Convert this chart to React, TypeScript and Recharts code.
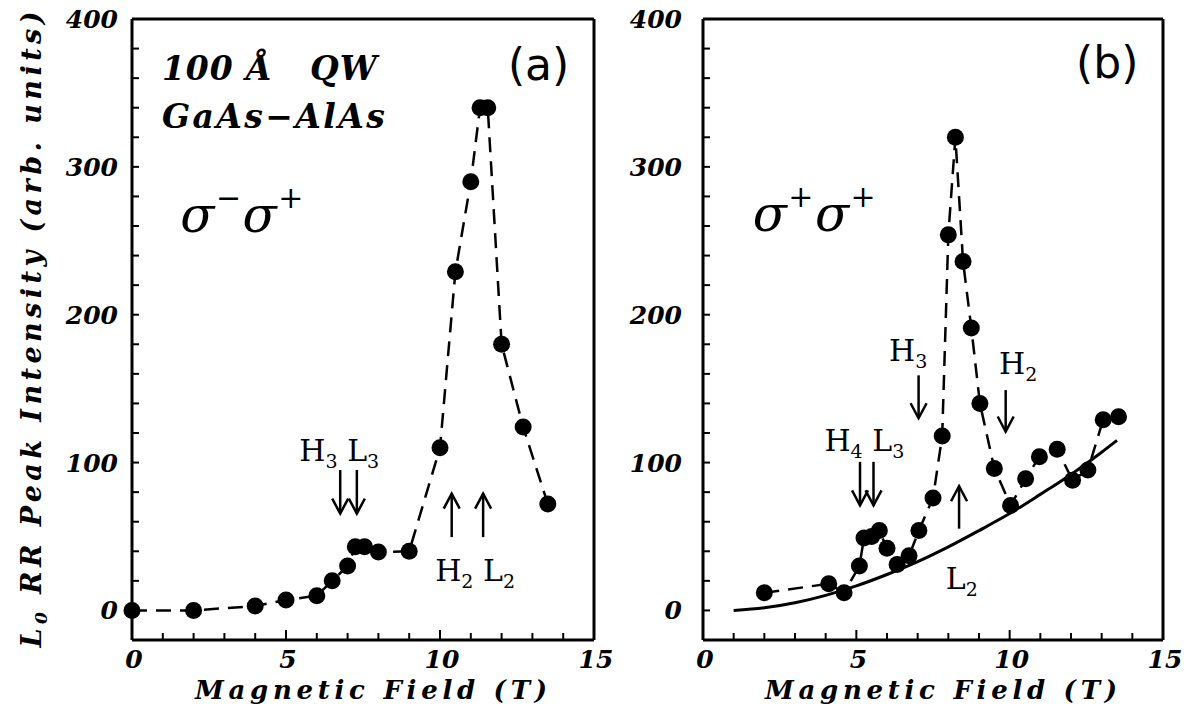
import React from "react";
import {
  ComposedChart,
  Line,
  XAxis,
  YAxis,
  ReferenceLine,
  ReferenceDot,
} from "recharts";

// ── Data ──────────────────────────────────────────────────────────────────────
// (a) sigma- sigma+
const fieldA = [0, 2, 4, 5, 6, 6.5, 7, 7.25, 7.55, 8, 9, 10, 10.5, 11, 11.3, 11.55, 12, 12.7, 13.5];
const intensityA = [0, 0, 3, 7, 10, 20, 30, 43, 43, 39.5, 40, 110, 229, 290, 340, 340, 180, 124, 72];

// (b) sigma+ sigma+
const fieldB = [
  2, 4.1, 4.6, 5.1, 5.25, 5.5, 5.75, 6.0, 6.33, 6.72, 7.04, 7.5, 7.8, 8.0, 8.23, 8.48, 8.75,
  9.03, 9.5, 10.03, 10.52, 10.97, 11.55, 12.05, 12.55, 13.05, 13.55,
];
const intensityB = [
  12, 18, 12, 30, 49, 50, 54, 42, 31, 37, 54, 76, 118, 254, 320, 236, 191,
  140, 96, 71, 89, 104, 109, 88, 95, 129, 131,
];

// (b) L2 background curve
const fitField = [1, 2, 3, 4, 5, 6, 7, 8, 9, 10, 11, 12, 13, 13.5];
const fitIntensity = [0, 1.8, 5.2, 10.2, 16.6, 24.3, 33, 43, 54, 65.5, 78.5, 92, 107, 115];

const xTicks = [0, 1, 2, 3, 4, 5, 6, 7, 8, 9, 10, 11, 12, 13, 14, 15];
const xTickLabels = [0, 5, 10, 15];
const yTicks = [0, 20, 40, 60, 80, 100, 120, 140, 160, 180, 200, 220, 240, 260, 280, 300, 320, 340, 360, 380, 400];
const yTickLabels = [0, 100, 200, 300, 400];

// ── Annotations (data coordinates) ────────────────────────────────────────────
type Part = [string, ("sub" | "sup")?];
type Note = { x: number; y: number; kind: string; parts: Part[]; width?: number; anchor: "start" | "middle" };
type Arrow = { x: number; from: number; to: number };

const notesA: Note[] = [
  { x: 0.97, y: 358.8, kind: "hershey", parts: [["100 Å   QW"]], width: 215, anchor: "start" },
  { x: 0.97, y: 326, kind: "hershey", parts: [["GaAs−AlAs"]], width: 223, anchor: "start" },
  { x: 13.2, y: 359, kind: "tag", parts: [["(a)"]], anchor: "middle" },
  { x: 1.57, y: 256, kind: "greek", parts: [["σ"], ["−", "sup"], ["σ"], ["+", "sup"]], width: 123, anchor: "start" },
  { x: 6.73, y: 101, kind: "roman", parts: [["H"], ["3", "sub"], [" L"], ["3", "sub"]], anchor: "middle" },
  { x: 11.14, y: 19.8, kind: "roman", parts: [["H"], ["2", "sub"], [" L"], ["2", "sub"]], anchor: "middle" },
];
const arrowsA: Arrow[] = [
  { x: 6.76, from: 95, to: 65.5 },
  { x: 7.3, from: 95, to: 65.5 },
  { x: 10.38, from: 49.6, to: 79 },
  { x: 11.4, from: 49.6, to: 79 },
];

const notesB: Note[] = [
  { x: 13.18, y: 360, kind: "tag", parts: [["(b)"]], anchor: "middle" },
  { x: 1.62, y: 256.8, kind: "greek", parts: [["σ"], ["+", "sup"], ["σ"], ["+", "sup"]], width: 123, anchor: "start" },
  { x: 6.69, y: 169, kind: "roman", parts: [["H"], ["3", "sub"]], anchor: "middle" },
  { x: 10.28, y: 160, kind: "roman", parts: [["H"], ["2", "sub"]], anchor: "middle" },
  { x: 5.26, y: 108, kind: "roman", parts: [["H"], ["4", "sub"], [" L"], ["3", "sub"]], anchor: "middle" },
  { x: 8.44, y: 14.7, kind: "roman", parts: [["L"], ["2", "sub"]], anchor: "middle" },
];
const arrowsB: Arrow[] = [
  { x: 5.12, from: 100.5, to: 71 },
  { x: 5.56, from: 100.5, to: 71 },
  { x: 7.03, from: 159, to: 130 },
  { x: 9.87, from: 149, to: 121 },
  { x: 8.35, from: 55.3, to: 84 },
];

// ── Theme ─────────────────────────────────────────────────────────────────────
const INK = "#000";
const SERIF = "'DejaVu Serif', serif";
const FONTS: Record<string, { family: string; size: number; weight: string; style: string; small: number; shift: number }> = {
  hershey: { family: SERIF, size: 33, weight: "bold", style: "italic", small: 18, shift: 0 },
  roman: { family: SERIF, size: 30, weight: "normal", style: "normal", small: 19, shift: 7 },
  greek: { family: SERIF, size: 50, weight: "normal", style: "italic", small: 30, shift: 24 },
  tag: { family: "'DejaVu Sans', sans-serif", size: 44, weight: "normal", style: "normal", small: 20, shift: 0 },
};

// ── Ticks (drawn inward on all four sides) ────────────────────────────────────
const axisText = { fontFamily: SERIF, fontWeight: "bold" as const, fontStyle: "italic" as const, fill: INK };

function BottomTick(p: any) {
  const v = p.payload.value;
  const len = v % 5 === 0 ? 10 : 7;
  return (
    <g>
      <line x1={p.x} y1={p.y} x2={p.x} y2={p.y - len} stroke={INK} strokeWidth={2} />
      {xTickLabels.includes(v) && (
        <text x={p.x + 2} y={p.y + 28} textAnchor="middle" fontSize={25} {...axisText}>
          {v}
        </text>
      )}
    </g>
  );
}

function TopTick(p: any) {
  const v = p.payload.value;
  const len = v % 5 === 0 ? 10 : 7;
  return <line x1={p.x} y1={p.y} x2={p.x} y2={p.y + len} stroke={INK} strokeWidth={2} />;
}

const leftTick = (gap: number) => (p: any) => {
  const v = p.payload.value;
  return (
    <g>
      <line x1={p.x} y1={p.y} x2={p.x + 7} y2={p.y} stroke={INK} strokeWidth={2} />
      {yTickLabels.includes(v) && (
        <text x={p.x - gap} y={p.y + 9} textAnchor="end" fontSize={25} {...axisText}>
          {v}
        </text>
      )}
    </g>
  );
};

function RightTick(p: any) {
  return <line x1={p.x} y1={p.y} x2={p.x - 7} y2={p.y} stroke={INK} strokeWidth={2} />;
}

// ── Annotation shapes ─────────────────────────────────────────────────────────
function ArrowShape(p: any) {
  const { x1, y1, x2, y2 } = p;
  const dir = y2 > y1 ? 1 : -1;
  const hl = 15;
  const hw = 8;
  return (
    <g stroke={INK} strokeWidth={2.5} fill="none">
      <line x1={x1} y1={y1} x2={x2} y2={y2} />
      <polyline points={`${x2 - hw},${y2 - dir * hl} ${x2},${y2} ${x2 + hw},${y2 - dir * hl}`} />
    </g>
  );
}

const noteShape = (note: Note) => (p: any) => {
  const f = FONTS[note.kind];
  let base = 0;
  const fit = note.width ? { textLength: note.width, lengthAdjust: "spacing" } : {};
  return (
    <text
      x={p.cx}
      y={p.cy}
      textAnchor={note.anchor}
      fontFamily={f.family}
      fontSize={f.size}
      fontWeight={f.weight}
      fontStyle={f.style}
      fill={INK}
      style={{ whiteSpace: "pre" }}
      {...fit}
    >
      {note.parts.map(([txt, mode], i) => {
        const target = mode === "sub" ? f.shift : mode === "sup" ? -f.shift : 0;
        const dy = target - base;
        base = target;
        return (
          <tspan key={i} dy={dy} fontSize={mode ? f.small : f.size}>
            {txt}
          </tspan>
        );
      })}
    </text>
  );
};

// ── One panel ─────────────────────────────────────────────────────────────────
type PanelProps = {
  field: number[];
  intensity: number[];
  notes: Note[];
  arrows: Arrow[];
  left: number;
  width: number;
  margin: { top: number; right: number; bottom: number; left: number };
  labelGap: number;
  withFit?: boolean;
  withYTitle?: boolean;
};

function Panel({ field, intensity, notes, arrows, left, width, margin, labelGap, withFit, withYTitle }: PanelProps) {
  const points = field.map((x, i) => ({ x, y: intensity[i] }));
  const fit = fitField.map((x, i) => ({ x, y: fitIntensity[i] }));

  const xTitle = (p: any) => {
    const vb = p.viewBox;
    return (
      <text
        x={vb.x + vb.width / 2 + 8}
        y={vb.y + 59}
        textAnchor="middle"
        fontSize={26}
        textLength={352}
        lengthAdjust="spacing"
        {...axisText}
      >
        Magnetic Field (T)
      </text>
    );
  };

  const yTitle = (p: any) => {
    const vb = p.viewBox;
    const cx = vb.x + vb.width - 91;
    const cy = vb.y + vb.height / 2;
    return (
      <text
        x={cx}
        y={cy}
        transform={`rotate(-90 ${cx} ${cy})`}
        textAnchor="middle"
        fontSize={27}
        textLength={636}
        lengthAdjust="spacing"
        {...axisText}
      >
        <tspan>L</tspan>
        <tspan dy={6} fontSize={17}>0</tspan>
        <tspan dy={-6}> RR Peak Intensity (arb. units)</tspan>
      </text>
    );
  };

  const frame = { stroke: INK, strokeWidth: 3 };

  return (
    <div style={{ position: "absolute", left, top: 0 }}>
      <ComposedChart width={width} height={706} margin={margin}>
        <XAxis
          dataKey="x"
          type="number"
          domain={[0, 15]}
          ticks={xTicks}
          interval={0}
          height={1}
          tickSize={0}
          tickMargin={0}
          tick={BottomTick}
          axisLine={frame}
          label={xTitle}
        />
        <XAxis
          xAxisId="top"
          orientation="top"
          dataKey="x"
          type="number"
          domain={[0, 15]}
          ticks={xTicks}
          interval={0}
          height={1}
          tickSize={0}
          tickMargin={0}
          tick={TopTick}
          axisLine={frame}
        />
        <YAxis
          type="number"
          domain={[-20, 400]}
          ticks={yTicks}
          interval={0}
          width={1}
          tickSize={0}
          tickMargin={0}
          tick={leftTick(labelGap)}
          axisLine={frame}
          label={withYTitle ? yTitle : undefined}
        />
        <YAxis
          yAxisId="right"
          orientation="right"
          type="number"
          domain={[-20, 400]}
          ticks={yTicks}
          interval={0}
          width={1}
          tickSize={0}
          tickMargin={0}
          tick={RightTick}
          axisLine={frame}
        />

        {withFit && (
          <Line
            data={fit}
            dataKey="y"
            type="monotone"
            stroke={INK}
            strokeWidth={3}
            dot={false}
            isAnimationActive={false}
          />
        )}
        <Line
          data={points}
          dataKey="y"
          type="linear"
          stroke={INK}
          strokeWidth={2.5}
          strokeDasharray="15 9"
          dot={{ r: 8.5, fill: INK, stroke: "none" }}
          activeDot={false}
          isAnimationActive={false}
        />

        {arrows.map((a, i) => (
          <ReferenceLine
            key={`ar${i}`}
            segment={[
              { x: a.x, y: a.from },
              { x: a.x, y: a.to },
            ]}
            shape={ArrowShape}
            ifOverflow="visible"
          />
        ))}
        {notes.map((n, i) => (
          <ReferenceDot key={`nt${i}`} x={n.x} y={n.y} r={0} shape={noteShape(n)} ifOverflow="visible" />
        ))}
      </ComposedChart>
    </div>
  );
}

export default function App() {
  return (
    <div style={{ position: "absolute", left: 0, top: 0, width: 1191, height: 706, background: "#fff" }}>
      <Panel
        field={fieldA}
        intensity={intensityA}
        notes={notesA}
        arrows={arrowsA}
        left={0}
        width={640}
        margin={{ top: 18, right: 45, bottom: 65, left: 131 }}
        labelGap={14}
        withYTitle
      />
      <Panel
        field={fieldB}
        intensity={intensityB}
        notes={notesB}
        arrows={arrowsB}
        left={600}
        width={591}
        margin={{ top: 18, right: 27, bottom: 65, left: 102 }}
        labelGap={21}
        withFit
      />
    </div>
  );
}
